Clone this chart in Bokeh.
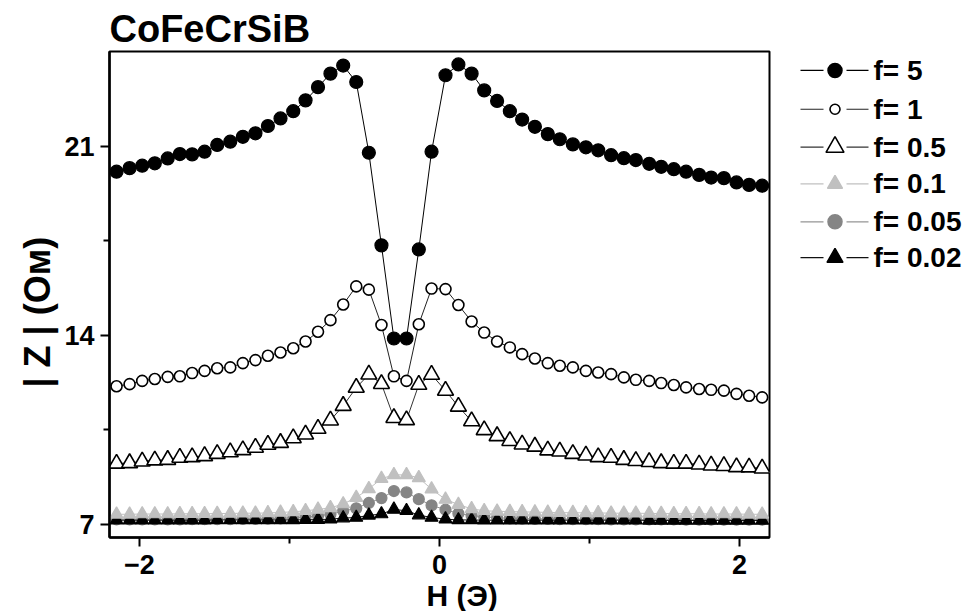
from bokeh.plotting import figure
from bokeh.models import Range1d, FixedTicker, Title
from bokeh.layouts import row
from bokeh.core.properties import value
from bokeh.embed import file_html
from bokeh.resources import INLINE

# ---------------- data ----------------
H = [-2.153, -2.066, -1.982, -1.898, -1.812, -1.731, -1.649, -1.566, -1.482, -1.395,
     -1.311, -1.227, -1.144, -1.060, -0.975, -0.893, -0.810, -0.727, -0.642, -0.555,
     -0.471, -0.387, -0.304,
     -0.220, -0.138, -0.053, 0.040, 0.126, 0.214, 0.298, 0.384, 0.469, 0.551,
     0.636, 0.722, 0.802, 0.889, 0.976, 1.058, 1.144, 1.229, 1.309, 1.398,
     1.478, 1.562, 1.644, 1.731, 1.811, 1.896, 1.980, 2.064, 2.151]

Z_f5 = [20.05, 20.18, 20.27, 20.36, 20.54, 20.70, 20.69, 20.79, 21.04, 21.16,
        21.34, 21.47, 21.74, 22.02, 22.29, 22.69, 23.18, 23.68, 23.98, 23.37,
        20.75, 17.32, 13.87,
        13.87, 17.17, 20.79, 23.62, 24.02, 23.68, 23.06, 22.67, 22.29, 21.98,
        21.71, 21.44, 21.25, 21.06, 20.95, 20.84, 20.66, 20.55, 20.48, 20.34,
        20.23, 20.14, 20.05, 19.93, 19.83, 19.81, 19.65, 19.56, 19.53]

Z_f1 = [12.10, 12.18, 12.30, 12.37, 12.45, 12.47, 12.59, 12.67, 12.77, 12.80,
        12.96, 13.07, 13.23, 13.35, 13.51, 13.76, 14.12, 14.55, 15.13, 15.80,
        15.68, 14.37, 12.47,
        12.30, 14.40, 15.72, 15.70, 15.11, 14.50, 14.09, 13.76, 13.54, 13.29,
        13.13, 12.96, 12.86, 12.80, 12.67, 12.61, 12.55, 12.43, 12.34, 12.30,
        12.22, 12.15, 12.06, 12.00, 11.97, 11.94, 11.82, 11.75, 11.69]

Z_f05 = [9.24, 9.26, 9.32, 9.36, 9.38, 9.46, 9.48, 9.52, 9.60, 9.66,
         9.74, 9.83, 9.94, 10.01, 10.18, 10.32, 10.53, 10.84, 11.38, 12.05,
         12.54, 12.19, 10.93,
         10.85, 12.16, 12.53, 11.94, 11.35, 10.81, 10.48, 10.26, 10.08, 9.95,
         9.87, 9.73, 9.69, 9.60, 9.54, 9.48, 9.46, 9.38, 9.34, 9.30,
         9.26, 9.24, 9.24, 9.21, 9.17, 9.15, 9.11, 9.10, 9.06]

Z_f01 = [7.36, 7.36, 7.37, 7.37, 7.37, 7.38, 7.38, 7.38, 7.39, 7.39,
         7.40, 7.40, 7.41, 7.43, 7.45, 7.49, 7.54, 7.60, 7.74, 7.98,
         8.30, 8.68, 8.82,
         8.82, 8.71, 8.29, 7.91, 7.72, 7.56, 7.49, 7.47, 7.46, 7.45,
         7.44, 7.43, 7.42, 7.42, 7.41, 7.41, 7.40, 7.40, 7.40, 7.39,
         7.39, 7.38, 7.38, 7.38, 7.37, 7.37, 7.37, 7.36, 7.36]

Z_f005 = [7.17, 7.17, 7.17, 7.17, 7.17, 7.17, 7.18, 7.18, 7.18, 7.18,
          7.19, 7.19, 7.20, 7.21, 7.23, 7.26, 7.30, 7.36, 7.48, 7.58,
          7.78, 7.96, 8.22,
          8.17, 7.92, 7.69, 7.53, 7.39, 7.31, 7.26, 7.23, 7.21, 7.20,
          7.19, 7.19, 7.18, 7.18, 7.18, 7.18, 7.17, 7.17, 7.17, 7.17,
          7.17, 7.17, 7.16, 7.16, 7.16, 7.16, 7.16, 7.16, 7.16]

Z_f002 = [7.14, 7.14, 7.14, 7.14, 7.14, 7.14, 7.14, 7.14, 7.15, 7.15,
          7.15, 7.15, 7.15, 7.15, 7.15, 7.16, 7.16, 7.18, 7.22, 7.24,
          7.32, 7.37, 7.54,
          7.49, 7.33, 7.24, 7.18, 7.15, 7.15, 7.14, 7.14, 7.14, 7.14,
          7.14, 7.14, 7.14, 7.14, 7.14, 7.14, 7.14, 7.14, 7.14, 7.13,
          7.13, 7.13, 7.13, 7.13, 7.13, 7.13, 7.13, 7.13, 7.13]

LABELS = ["f= 5", "f= 1", "f= 0.5", "f= 0.1", "f= 0.05", "f= 0.02"]
X_TICKS = [-2, 0, 2]
X_MINOR = [-1, 1]
Y_TICKS = [7, 14, 21]
Y_MINOR = [10.5, 17.5]
TITLE = "CoFeCrSiB"
X_LABEL = "H (Э)"
Y_LABEL = "| Z | (Ом)"

FONT = "Liberation Sans"

# style per series: (values, marker, size, fill, outline, outline width,
#                    line colour, legend size)
STYLE = {
    "f= 5":    (Z_f5,   "circle",   13, "black",   "black",   1.2, "black",   14),
    "f= 1":    (Z_f1,   "circle",   11, "white",   "black",   1.6, "#222222", 10),
    "f= 0.5":  (Z_f05,  "triangle", 16, "white",   "black",   1.6, "#333333", 18),
    "f= 0.1":  (Z_f01,  "triangle", 13, "#c0c0c0", "#c0c0c0", 1.2, "#c0c0c0", 15),
    "f= 0.05": (Z_f005, "circle",   11, "#858585", "#858585", 1.2, "#959595", 14),
    "f= 0.02": (Z_f002, "triangle", 13, "black",   "black",   1.2, "#111111", 16),
}
DRAW_ORDER = ["f= 0.05", "f= 0.02", "f= 0.1", "f= 0.5", "f= 1", "f= 5"]

# ---------------- main plot ----------------
p = figure(width=780, height=611,
           x_range=Range1d(-2.2, 2.2), y_range=Range1d(6.5, 24.5),
           output_backend="svg", toolbar_location=None,
           min_border_left=109, min_border_right=11,
           min_border_top=51, min_border_bottom=72,
           background_fill_color="white", border_fill_color="white")

for name in DRAW_ORDER:
    vals, marker, size, fill, outl, olw, lcol, _ = STYLE[name]
    p.line(H, vals, line_color=lcol, line_width=1)
    p.scatter(H, vals, marker=marker, size=size, fill_color=fill,
              line_color=outl, line_width=olw)

p.grid.visible = False
p.outline_line_color = "black"
p.outline_line_width = 2
p.outline_line_alpha = 1

p.title.text = TITLE
p.title.align = "left"
p.title.text_font = FONT
p.title.text_font_size = "38px"
p.title.text_font_style = "bold"
p.title.text_color = "black"
p.title.standoff = 4

p.xaxis.ticker = FixedTicker(ticks=X_TICKS, minor_ticks=X_MINOR)
p.yaxis.ticker = FixedTicker(ticks=Y_TICKS, minor_ticks=Y_MINOR)

for ax in (p.xaxis[0], p.yaxis[0]):
    ax.axis_line_width = 2.5
    ax.axis_line_color = "black"
    ax.major_tick_line_width = 2
    ax.minor_tick_line_width = 2
    ax.major_tick_line_color = "black"
    ax.minor_tick_line_color = "black"
    ax.major_tick_in = 0
    ax.minor_tick_in = 0
    ax.major_tick_out = 9
    ax.minor_tick_out = 6
    ax.major_label_text_font = FONT
    ax.major_label_text_font_size = "27px"
    ax.major_label_text_font_style = "bold"
    ax.major_label_text_color = "black"

p.xaxis.major_label_standoff = 8
p.yaxis.major_label_standoff = 6

# axis titles as side-panel titles so they can sit off-centre like the reference
xt = Title(text=X_LABEL, align="left", offset=317, standoff=0,
           text_font=FONT, text_font_size="30px", text_font_style="bold",
           text_color="black")
p.add_layout(xt, "below")
yt = Title(text=Y_LABEL, align="left", offset=150, standoff=8,
           text_font=FONT, text_font_size="36px", text_font_style="bold",
           text_color="black")
p.add_layout(yt, "left")

# ---------------- legend panel ----------------
leg = figure(width=192, height=611,
             x_range=Range1d(780, 972), y_range=Range1d(539, 51),
             output_backend="svg", toolbar_location=None,
             min_border_left=0, min_border_right=0,
             min_border_top=51, min_border_bottom=72,
             x_axis_location=None, y_axis_location=None,
             outline_line_color=None, background_fill_color="white",
             border_fill_color="white")
leg.grid.visible = False

row_y = [70, 109, 147, 184, 222, 258]
for name, yy in zip(LABELS, row_y):
    vals, marker, size, fill, outl, olw, lcol, lsize = STYLE[name]
    leg.segment(x0=[800, 846], y0=[yy, yy], x1=[823, 868], y1=[yy, yy],
                line_color=lcol, line_width=1.2)
    leg.scatter([834.5], [yy], marker=marker, size=lsize, fill_color=fill,
                line_color=outl, line_width=max(olw, 1.5))

leg.text(x=[873] * len(LABELS), y=row_y, text=LABELS,
         text_font=value(FONT), text_font_style="bold",
         text_font_size="28px", text_baseline="middle", text_align="left",
         text_color="black")

layout = row(p, leg)
open("out.html", "w").write(file_html(layout, INLINE))
